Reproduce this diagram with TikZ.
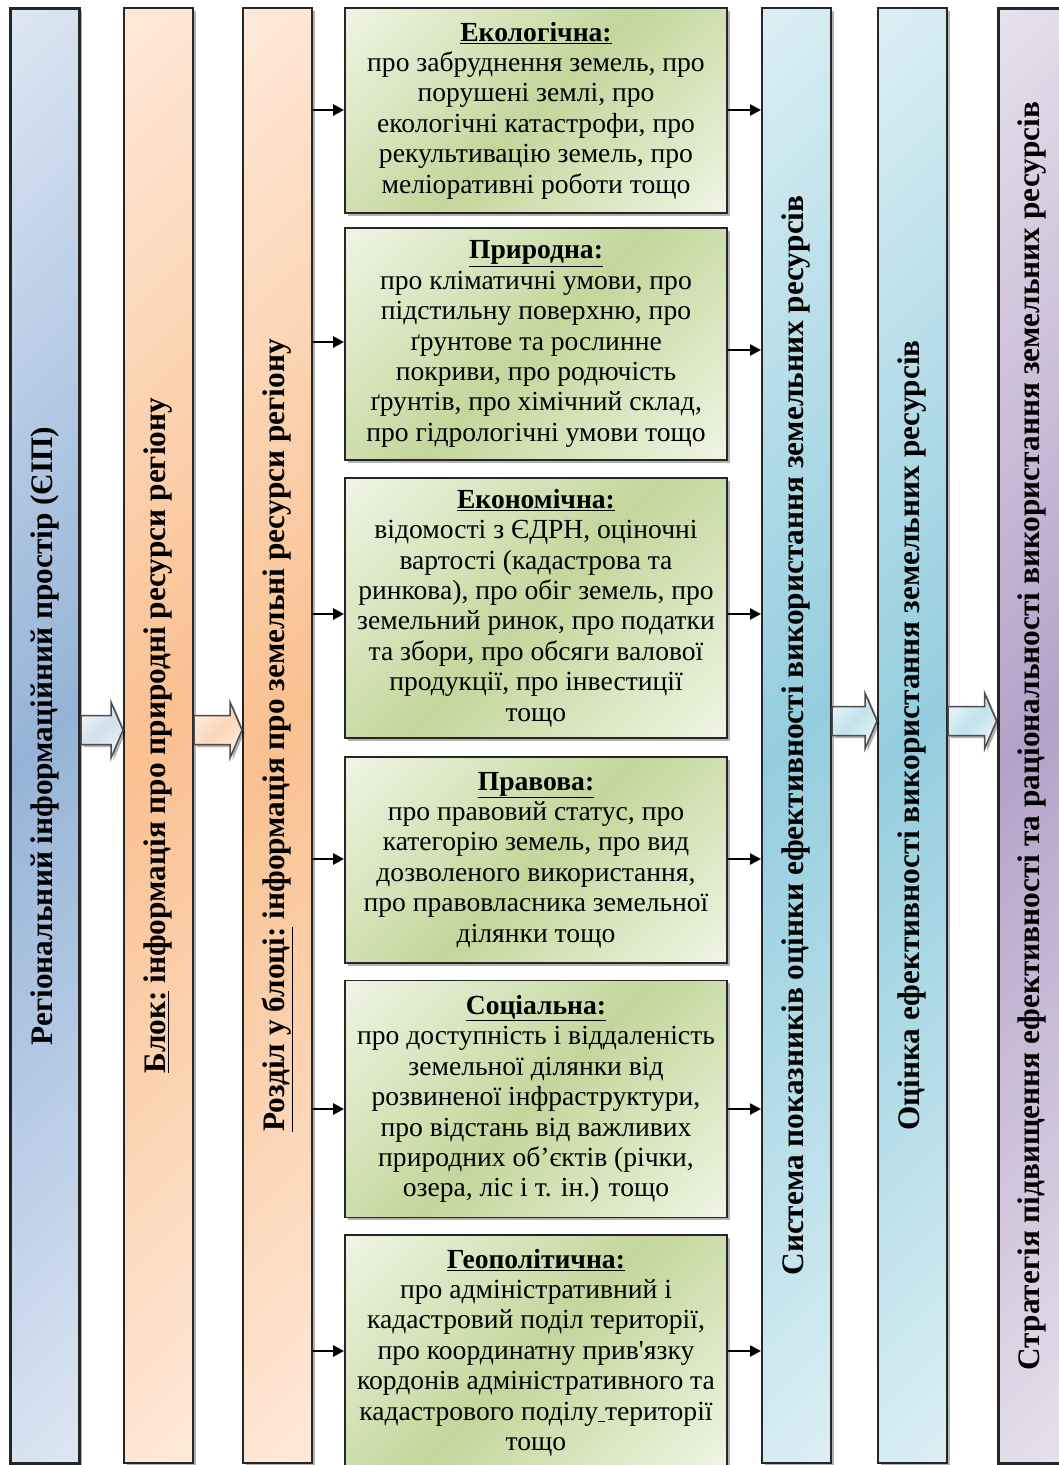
\documentclass[tikz,border=0pt]{standalone}
\usepackage{fontspec}
\usepackage{graphicx}
\setmainfont{Liberation Serif}
% same face without the TeX quote mapping, for a straight apostrophe
\newfontfamily\rawserif{Liberation Serif}
\usetikzlibrary{arrows.meta,calc,shadows}

% fill colours: light and dark stop of each diagonal gradient
\definecolor{bluL}{HTML}{DCE6F2}\definecolor{bluD}{HTML}{95B3D7}
\definecolor{orL}{HTML}{FDE9D9}\definecolor{orD}{HTML}{FAC090}
\definecolor{grL}{HTML}{EFF4E3}\definecolor{grD}{HTML}{C3D69B}
\definecolor{cyL}{HTML}{DBEEF4}\definecolor{cyD}{HTML}{93CDDD}
\definecolor{puL}{HTML}{E6E0EC}\definecolor{puD}{HTML}{B3A2C7}

% light - dark - light gradient, used with shading angle=-45
\newcommand{\diagshade}[3]{\pgfdeclarehorizontalshading{#1}{100bp}{color(0bp)=(#2); color(15bp)=(#2); color(50bp)=(#3); color(85bp)=(#2); color(100bp)=(#2)}}
\diagshade{bluefill}{bluL}{bluD}
\diagshade{orangefill}{orL}{orD}
\diagshade{greenfill}{grL}{grD}
\diagshade{cyanfill}{cyL}{cyD}
\diagshade{purplefill}{puL}{puD}
% paler versions for the block arrows
\diagshade{bluearrow}{white!80!bluL}{bluL!85!bluD}
\diagshade{orangearrow}{white!60!orL}{orL!55!orD}
\diagshade{cyanarrow}{white!70!cyL}{cyL!65!cyD}

\tikzset{
  softshadow/.style={drop shadow={shadow xshift=2.5pt, shadow yshift=-2.5pt, opacity=.3, fill=black}},
  colbox/.style={draw=black!85, line width=2pt, minimum width=69pt, minimum height=1455pt,
    inner sep=0pt, shading angle=-45, softshadow,
    font=\fontsize{31.3}{36}\selectfont\bfseries},
  infobox/.style={draw=black!85, line width=1.8pt, shading=greenfill, shading angle=-45,
    minimum width=382pt, inner sep=0pt, align=center, softshadow,
    font=\fontsize{27.6}{30.4}\selectfont},
  smallarrow/.style={line width=2.5pt, -{Triangle[length=11pt,width=11pt]}},
  blockarrow/.style={draw=black!70, line width=1.5pt, line join=miter, shading angle=-45, softshadow},
}

% hollow block arrow from coordinate #1 (start) to coordinate #2 (tip)
\newcommand{\blkarrow}[3]{%
  \path[blockarrow,#3] ($(#1)+(0,-14.5)$) -- ($(#2)+(-12,-14.5)$) -- ($(#2)+(-12,-28)$) -- (#2)
    -- ($(#2)+(-12,28)$) -- ($(#2)+(-12,14.5)$) -- ($(#1)+(0,14.5)$) -- cycle;}

\newcommand{\ttl}[1]{\textbf{\underline{#1}}}

\begin{document}
\begin{tikzpicture}[x=1pt,y=-1pt]
\useasboundingbox (0,0) rectangle (1059,1465);
\fill[white] (0,0) rectangle (1059,1465);

% vertical columns
\node[colbox, shading=bluefill, line width=3pt] (c1) at (45,736)
  {\rotatebox{90}{Регіональний інформаційний простір (ЄІП)}};
\node[colbox, shading=orangefill] (c2) at (158.5,735.5)
  {\rotatebox{90}{\underline{Блок:} інформація про природні ресурси регіону}};
\node[colbox, shading=orangefill] (c3) at (277.5,735.5)
  {\rotatebox{90}{\underline{Розділ у блоці:} інформація про земельні ресурси регіону}};
\node[colbox, shading=cyanfill] (c5) at (796.5,735.5)
  {\rotatebox{90}{Система показників оцінки ефективності використання земельних ресурсів}};
\node[colbox, shading=cyanfill] (c6) at (912.5,735.5)
  {\rotatebox{90}{Оцінка ефективності використання земельних ресурсів}};
\node[colbox, shading=purplefill, line width=3pt] (c7) at (1032.5,736)
  {\rotatebox{90}{Стратегія підвищення ефективності та раціональності використання земельних ресурсів}};

% information boxes
\node[infobox, minimum height=205pt] (e1) at (536,110.5) {\ttl{Екологічна:}\\
  про забруднення земель, про\\ порушені землі, про\\ екологічні катастрофи, про\\
  рекультивацію земель, про\\ меліоративні роботи тощо};
\node[infobox, minimum height=232pt] (e2) at (536,344) {\ttl{Природна:}\\
  про кліматичні умови, про\\ підстильну поверхню, про\\ ґрунтове та рослинне\\
  покриви, про родючість\\ ґрунтів, про хімічний склад,\\ про гідрологічні умови тощо};
\node[infobox, minimum height=260pt] (e3) at (536,608) {\ttl{Економічна:}\\
  відомості з ЄДРН, оціночні\\ вартості (кадастрова та\\ ринкова), про обіг земель, про\\
  земельний ринок, про податки\\ та збори, про обсяги валової\\ продукції, про інвестиції\\ тощо};
\node[infobox, minimum height=206pt] (e4) at (536,860) {\ttl{Правова:}\\
  про правовий статус, про\\ категорію земель, про вид\\ дозволеного використання,\\
  про правовласника земельної\\ ділянки тощо};
\node[infobox, minimum height=237pt] (e5) at (536,1099) {\ttl{Соціальна:}\\
  про доступність і віддаленість\\ земельної ділянки від\\ розвиненої інфраструктури,\\
  про відстань від важливих\\ природних об’єктів (річки,\\ озера, ліс і т. ін.) тощо};
\node[infobox, minimum height=235pt] (e6) at (536,1352.5) {\ttl{Геополітична:}\\
  про адміністративний і\\ кадастровий поділ території,\\ про координатну прив{\rawserif'}язку\\
  кордонів адміністративного та\\ кадастрового поділу\underline{\ }території\\ тощо};

% arrows into and out of the information boxes
\foreach \b/\yin/\yout in {e1/110/110, e2/342/350, e3/614/614, e4/859/859, e5/1109/1109, e6/1351/1351}{
  \draw[smallarrow] (c3.east |- 0,\yin) -- (\b.west |- 0,\yin);
  \draw[smallarrow] (\b.east |- 0,\yout) -- (c5.west |- 0,\yout);
}

% block arrows between columns
\coordinate (a1s) at (c1.east |- 0,730);
\coordinate (a1t) at (c2.west |- 0,730);
\coordinate (a2s) at (c2.east |- 0,730);
\coordinate (a2t) at (c3.west |- 0,730);
\coordinate (a3s) at (c5.east |- 0,721);
\coordinate (a3t) at (c6.west |- 0,721);
\coordinate (a4s) at (c6.east |- 0,721);
\coordinate (a4t) at (c7.west |- 0,721);
\blkarrow{a1s}{a1t}{shading=bluearrow}
\blkarrow{a2s}{a2t}{shading=orangearrow}
\blkarrow{a3s}{a3t}{shading=cyanarrow}
\blkarrow{a4s}{a4t}{shading=cyanarrow}
\end{tikzpicture}
\end{document}
